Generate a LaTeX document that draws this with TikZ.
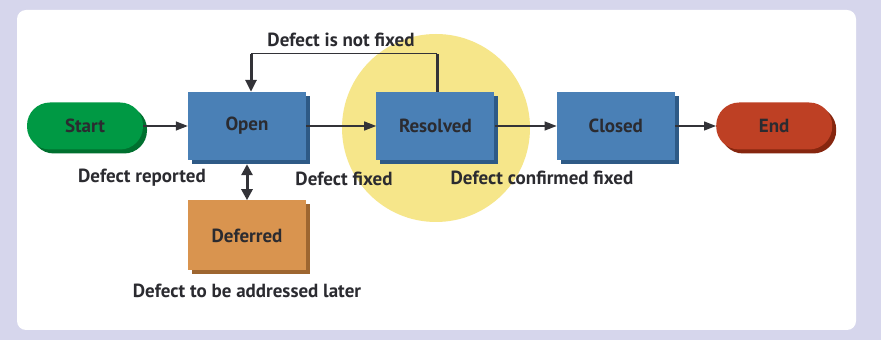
\documentclass[tikz,border=0pt]{standalone}
\usepackage{fontspec}
\setmainfont{PT Sans}
\usetikzlibrary{arrows.meta,positioning,calc,shadows}
\definecolor{cBack}{HTML}{D6D6EC}
\definecolor{cText}{HTML}{2B2B30}
\definecolor{cLine}{HTML}{333338}
\definecolor{cStart}{HTML}{009944}
\definecolor{cStartDk}{HTML}{00702F}
\definecolor{cState}{HTML}{4A80B6}
\definecolor{cStateDk}{HTML}{2E5A86}
\definecolor{cDefer}{HTML}{D9944F}
\definecolor{cDeferDk}{HTML}{9E6630}
\definecolor{cEnd}{HTML}{BE4024}
\definecolor{cEndDk}{HTML}{86260F}
\definecolor{cFocus}{HTML}{F6E68A}

\begin{document}
\begin{tikzpicture}[
  x=1pt, y=1pt,
  font=\fontsize{19}{22}\selectfont\bfseries,
  text=cText,
  state/.style={draw=none, fill=cState, minimum width=118pt, minimum height=68pt,
                inner sep=0pt,
                drop shadow={opacity=1, fill=cStateDk, shadow xshift=4pt, shadow yshift=-4pt}},
  pill/.style={draw=none, rounded corners=23pt, minimum width=116pt, minimum height=47pt,
               inner sep=0pt},
  lbl/.style={inner sep=0pt},
  flow/.style={-{Triangle[length=12pt,width=9pt]}, line width=1.3pt, draw=cLine},
  thk/.style={line width=3pt, draw=cLine},
]

% ---------------- background panel ----------------
\fill[cBack] (0,0) rectangle (881,340);
\fill[white, rounded corners=9pt] (17,10) rectangle (856,330);
\fill[cFocus] (436,212) circle (94);

% ---------------- states ----------------
\node (start) [pill, fill=cStart,
  drop shadow={opacity=1, fill=cStartDk, shadow xshift=4pt, shadow yshift=-4pt}]
  at (85,214) {Start};
\node (open) [state] at (247,214) {Open};
\node (res) [state, right=70pt of open] {Resolved};
\node (closed) [state, right=62pt of res] {Closed};
\node (end) [pill, fill=cEnd, right=41pt of closed,
  drop shadow={opacity=1, fill=cEndDk, shadow xshift=4pt, shadow yshift=-4pt}] {End};
\node (defer) [state, fill=cDefer, below=40pt of open, minimum height=70pt,
  drop shadow={opacity=1, fill=cDeferDk, shadow xshift=4pt, shadow yshift=-4pt}] {Deferred};

% ---------------- transitions ----------------
\draw[flow] (start) -- (open);
\draw[flow] (open) -- (res);
\draw[flow] (res) -- (closed);
\draw[flow] (closed) -- (end);

% loop back from resolved to open
\coordinate (loopR) at ($(res.north)+(2,38)$);
\coordinate (loopL) at ($(loopR -| open.north)+(4,0)$);
\draw[thk] ($(res.north)+(2,0)$) -- (loopR);
\draw[line width=1.3pt, draw=cLine] (loopR) -- (loopL);
\draw[thk, -{Triangle[length=12pt,width=11pt]}] (loopL) -- ($(open.north)+(4,0)$);

\draw[thk, {Triangle[length=11pt,width=11pt]}-{Triangle[length=11pt,width=11pt]},
  shorten <=4pt] (open.south) -- (defer.north);

% ---------------- labels ----------------
\node (lrep) [lbl] at (142,162) {Defect reported};
\node (lfix) [lbl] at (344,161) {Defect fixed};
\node (lconf) [lbl] at (542,162) {Defect confirmed fixed};
\node (lnot) [lbl] at (341,300) {Defect is not fixed};
\node (llate) [lbl, below=13pt of defer] {Defect to be addressed later};

\end{tikzpicture}
\end{document}
